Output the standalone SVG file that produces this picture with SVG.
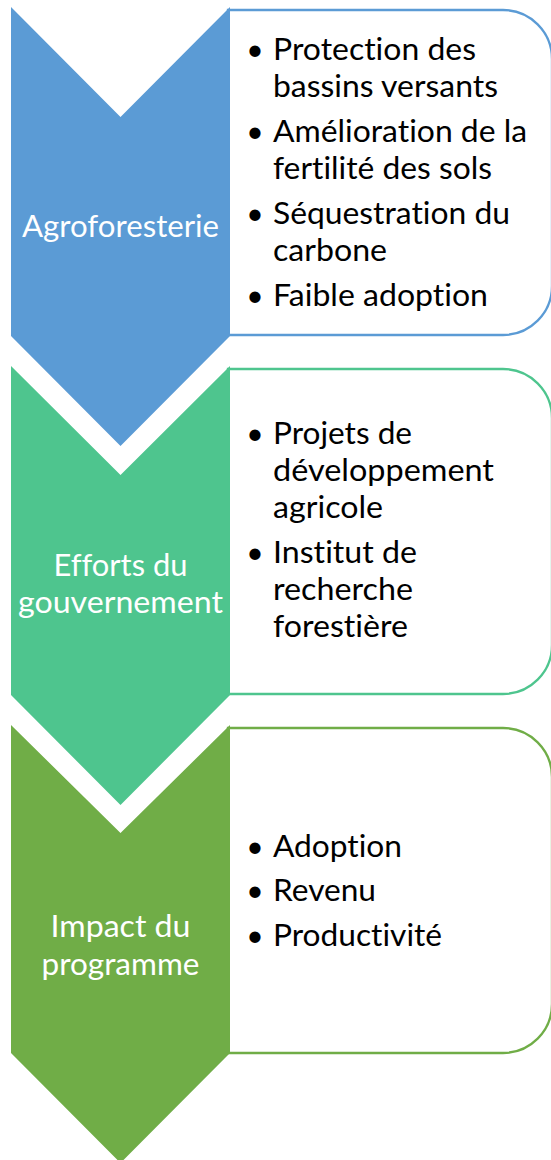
<svg xmlns="http://www.w3.org/2000/svg" width="551" height="1160" viewBox="0 0 551 1160">
<style>
text{font-variant-ligatures:none;font-feature-settings:"liga" 0,"dlig" 0}
.box{fill:#FFFFFF;stroke-width:2.3}
.lbl{font-family:Lato,"Liberation Sans",sans-serif;font-size:30px;fill:#FFFFFF;text-anchor:middle}
.txt{font-family:Lato,"Liberation Sans",sans-serif;font-size:30px;fill:#000000}
.bul{font-family:Lato,"Liberation Sans",sans-serif;font-size:30px;fill:#000000;text-anchor:middle}
</style>
<rect width="551" height="1160" fill="#FFFFFF"/>
<g id="connectors"></g>

<g id="box1">
<path class="box" stroke="#5B9BD5" d="M228,10 H503 A49,49 0 0 1 552,59 V286 A49,49 0 0 1 503,335 H228 Z"/>
<text class="bul" x="255" y="60">•</text>
<text class="txt" x="273" y="60" textLength="203" lengthAdjust="spacingAndGlyphs">Protection des</text>
<text class="txt" x="273" y="97" textLength="225" lengthAdjust="spacingAndGlyphs">bassins versants</text>
<text class="bul" x="255" y="142">•</text>
<text class="txt" x="273" y="142" textLength="254" lengthAdjust="spacingAndGlyphs">Amélioration de la</text>
<text class="txt" x="273" y="179" textLength="219" lengthAdjust="spacingAndGlyphs">fertilité des sols</text>
<text class="bul" x="255" y="224">•</text>
<text class="txt" x="273" y="224" textLength="237" lengthAdjust="spacingAndGlyphs">Séquestration du</text>
<text class="txt" x="273" y="261" textLength="114" lengthAdjust="spacingAndGlyphs">carbone</text>
<text class="bul" x="255" y="306">•</text>
<text class="txt" x="273" y="306" textLength="215" lengthAdjust="spacingAndGlyphs">Faible adoption</text>
</g>

<g id="box2">
<path class="box" stroke="#4EC58E" d="M228,369 H503 A49,49 0 0 1 552,418 V645 A49,49 0 0 1 503,694 H228 Z"/>
<text class="bul" x="255" y="444">•</text>
<text class="txt" x="273" y="444" textLength="139" lengthAdjust="spacingAndGlyphs">Projets de</text>
<text class="txt" x="273" y="481" textLength="221" lengthAdjust="spacingAndGlyphs">développement</text>
<text class="txt" x="273" y="518" textLength="110" lengthAdjust="spacingAndGlyphs">agricole</text>
<text class="bul" x="255" y="563">•</text>
<text class="txt" x="273" y="563" textLength="144" lengthAdjust="spacingAndGlyphs">Institut de</text>
<text class="txt" x="273" y="600" textLength="140" lengthAdjust="spacingAndGlyphs">recherche</text>
<text class="txt" x="273" y="637" textLength="135" lengthAdjust="spacingAndGlyphs">forestière</text>
</g>

<g id="box3">
<path class="box" stroke="#70AD47" d="M228,728 H503 A49,49 0 0 1 552,777 V1004 A49,49 0 0 1 503,1053 H228 Z"/>
<text class="bul" x="255" y="857">•</text>
<text class="txt" x="273" y="857" textLength="129" lengthAdjust="spacingAndGlyphs">Adoption</text>
<text class="bul" x="255" y="901">•</text>
<text class="txt" x="273" y="901" textLength="103" lengthAdjust="spacingAndGlyphs">Revenu</text>
<text class="bul" x="255" y="946">•</text>
<text class="txt" x="273" y="946" textLength="169" lengthAdjust="spacingAndGlyphs">Productivité</text>
</g>

<g id="chevron1">
<polygon fill="#5B9BD5" points="11,7 120.5,117 230,7 230,336 120.5,446 11,336"/>
<text class="lbl" x="120.5" y="237" textLength="197" lengthAdjust="spacingAndGlyphs">Agroforesterie</text>
</g>

<g id="chevron2">
<polygon fill="#4EC58E" points="11,366 120.5,475 230,366 230,695 120.5,805 11,695"/>
<text class="lbl" x="120.5" y="576" textLength="134" lengthAdjust="spacingAndGlyphs">Efforts du</text>
<text class="lbl" x="120.5" y="613" textLength="205" lengthAdjust="spacingAndGlyphs">gouvernement</text>
</g>

<g id="chevron3">
<polygon fill="#70AD47" points="11,725 120.5,833 230,725 230,1053 120.5,1163 11,1053"/>
<text class="lbl" x="120.5" y="937" textLength="140" lengthAdjust="spacingAndGlyphs">Impact du</text>
<text class="lbl" x="120.5" y="975" textLength="158" lengthAdjust="spacingAndGlyphs">programme</text>
</g>
</svg>
